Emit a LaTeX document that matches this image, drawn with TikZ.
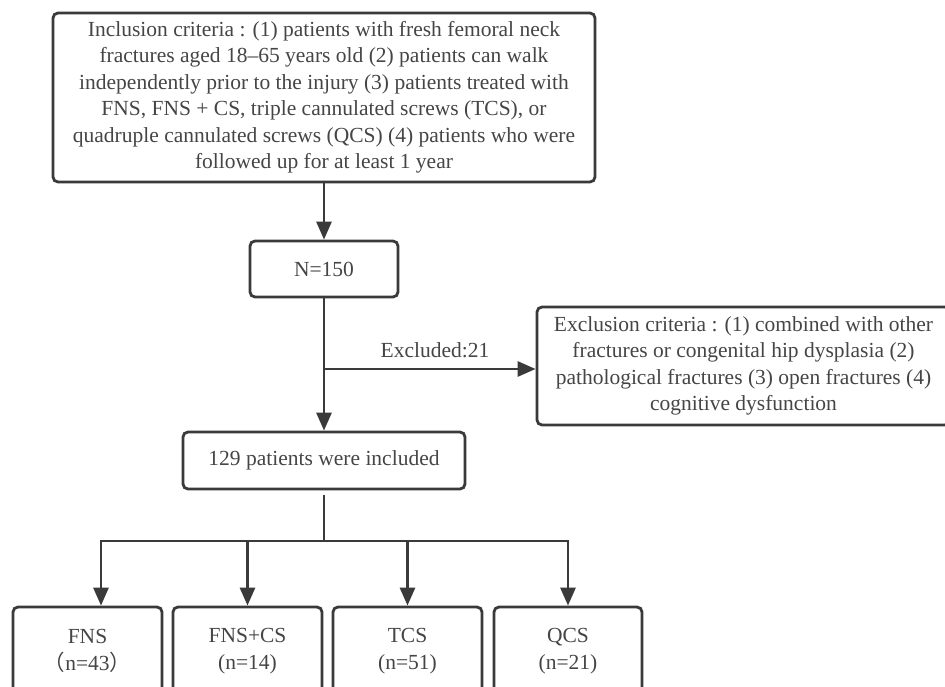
\documentclass[tikz,border=0pt]{standalone}
\usepackage{fontspec}
\setmainfont{Liberation Serif}
\newfontfamily\cjk{Noto Sans CJK SC}
\usetikzlibrary{arrows.meta}
\definecolor{linec}{HTML}{3A3A3A}
\definecolor{textc}{HTML}{454545}
\tikzset{
  box/.style={draw=linec, line width=2.8pt, rounded corners=5pt, align=center,
    inner sep=0pt, text=textc, font=\fontsize{21.5}{26.5}\selectfont},
  conn/.style={draw=linec, line width=2.8pt},
  arr/.style={conn, -{Triangle[width=15pt,length=18pt]}},
  lbl/.style={text=textc, font=\fontsize{21.5}{26.5}\selectfont, inner sep=0pt}
}
\begin{document}
\begin{tikzpicture}[x=1pt,y=-1pt]
\useasboundingbox (0,0) rectangle (945,687);
\clip (0,0) rectangle (945,687);
\fill[white] (0,0) rectangle (945,687);

\node[box, minimum width=542pt, minimum height=169pt] (inc) at (324,97.5)
  {Inclusion criteria : (1) patients with fresh femoral neck\\
   fractures aged 18–65 years old (2) patients can walk\\
   independently prior to the injury (3) patients treated with\\
   FNS, FNS + CS, triple cannulated screws (TCS), or\\
   quadruple cannulated screws (QCS) (4) patients who were\\
   followed up for at least 1 year};

\node[box, minimum width=148pt, minimum height=56pt] (n150) at (324,269) {N=150};

\node[box, minimum width=413pt, minimum height=118pt] (exc) at (743.5,366)
  {Exclusion criteria : (1) combined with other\\
   fractures or congenital hip dysplasia (2)\\
   pathological fractures (3) open fractures (4)\\
   cognitive dysfunction};

\node[box, minimum width=282pt, minimum height=57pt] (inc129) at (324,460.5) {129 patients were included};

\node[box, minimum width=149pt, minimum height=88pt] (fns) at (87.5,651) {FNS\\{\cjk （}n=43{\cjk ）}};
\node[box, minimum width=149pt, minimum height=88pt] (fnscs) at (247.5,651) {FNS+CS\\(n=14)};
\node[box, minimum width=149pt, minimum height=88pt] (tcs) at (407.5,651) {TCS\\(n=51)};
\node[box, minimum width=148pt, minimum height=88pt] (qcs) at (568,651) {QCS\\(n=21)};

\coordinate (br) at (324,369);
\coordinate (bus) at (324,541);
\coordinate (fnsin) at (101,607);

\draw[arr] (inc.south) -- (n150.north);
\draw[conn] (n150.south) -- (br);
\draw[arr] (br) -- (inc129.north);
\draw[arr] (br) -- (br -| exc.west);
\node[lbl] (exlab) at (435,350) {Excluded:21};

\draw[conn] ([yshift=-5pt]inc129.south) -- (bus);
\draw[arr] (bus) -| ([yshift=1.4pt]fnsin);
\draw[arr] (bus) -| (qcs.north);
\draw[arr] (fnscs.north |- bus) -- (fnscs.north);
\draw[arr] (tcs.north |- bus) -- (tcs.north);
\end{tikzpicture}
\end{document}
